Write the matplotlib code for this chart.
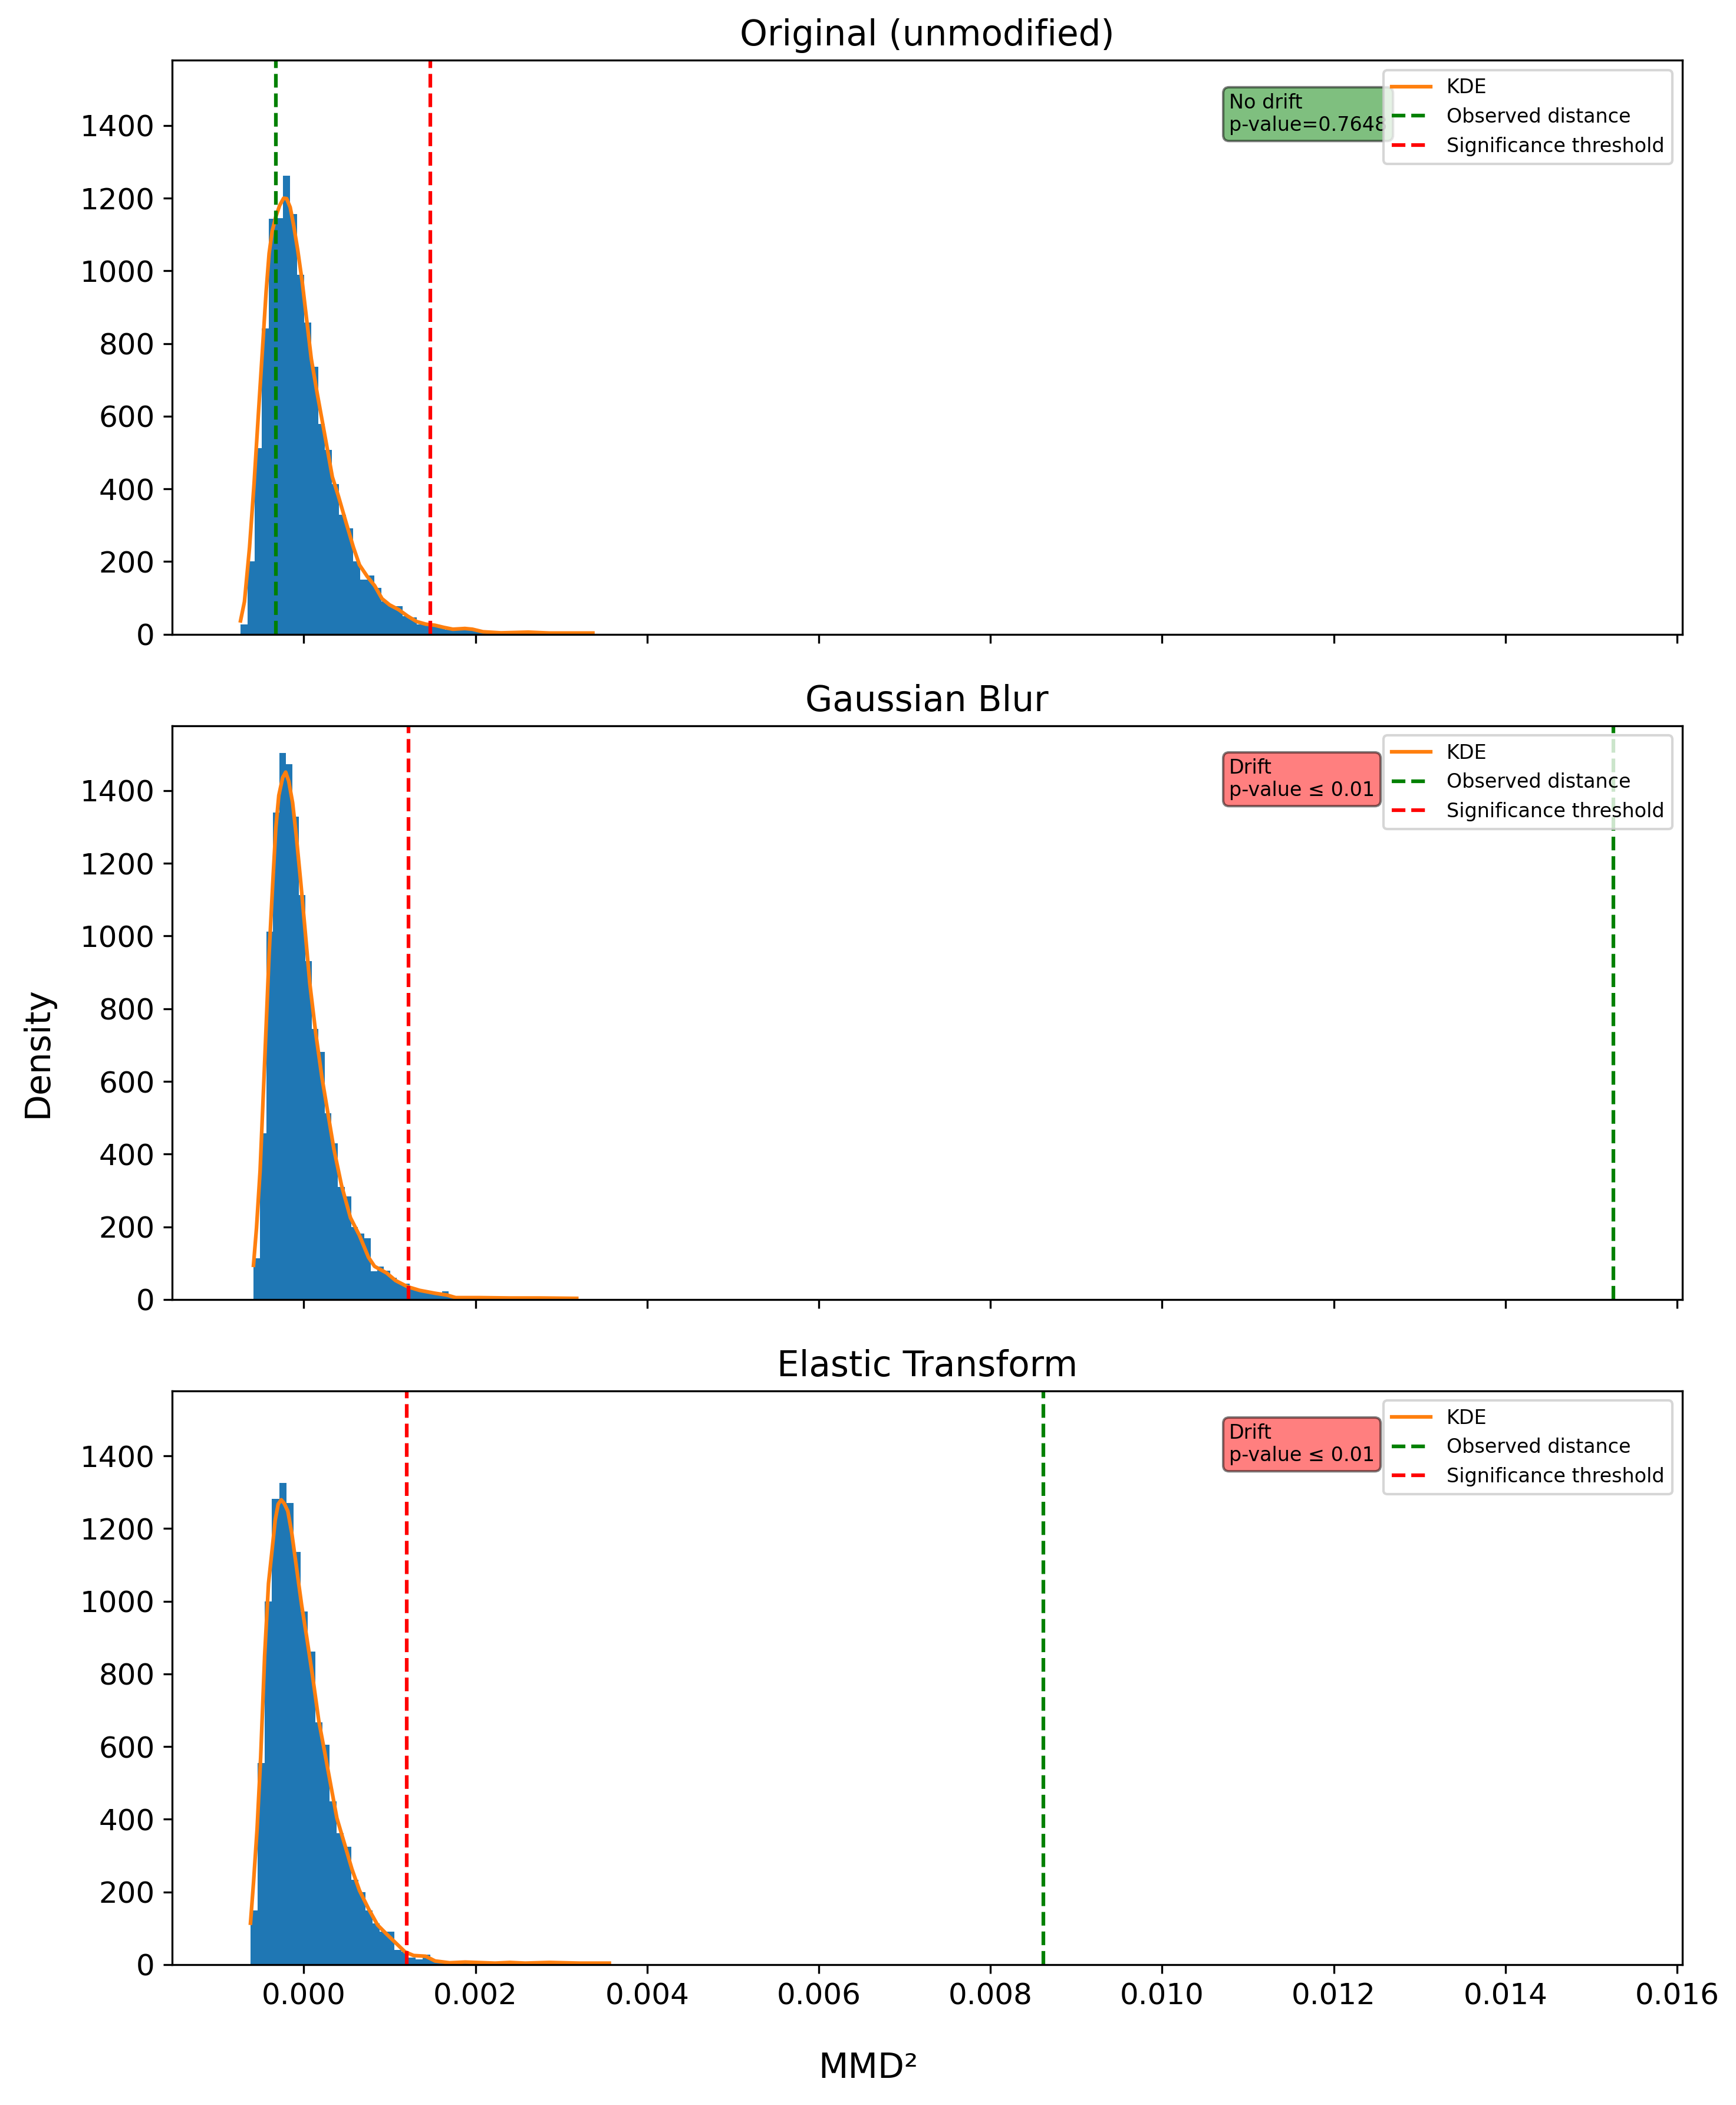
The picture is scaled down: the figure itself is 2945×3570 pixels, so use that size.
import matplotlib.pyplot as plt
import numpy as np

titles = ["Original (unmodified)", "Gaussian Blur", "Elastic Transform"]

# histogram ranges (first / last bin edge) and densities, 50 bins each
hist_lo = [-0.000737, -0.000586, -0.000621]
hist_hi = [0.003368, 0.003204, 0.003564]
hist_orig = [28, 201, 512, 841, 1144, 1145, 1262, 1156, 989, 858,
             737, 579, 507, 414, 329, 292, 201, 151, 162, 127,
             90, 78, 78, 50, 46, 28, 26, 20, 18, 12,
             15, 16, 16, 9, 4, 3, 3, 3, 2, 2,
             3, 3, 2, 2, 2, 2, 1, 1, 1, 1]
hist_blur = [114, 457, 1012, 1340, 1504, 1473, 1329, 1113, 931, 745,
             681, 513, 430, 309, 283, 199, 181, 168, 78, 91,
             79, 59, 47, 44, 30, 22, 20, 16, 12, 22,
             9, 5, 4, 3, 3, 3, 2, 2, 2, 2,
             2, 1, 1, 1, 1, 1, 1, 1, 1, 1]
hist_elastic = [149, 554, 1000, 1282, 1325, 1271, 1136, 971, 861, 666,
                605, 450, 361, 325, 234, 199, 149, 114, 91, 91,
                40, 35, 20, 15, 28, 15, 7, 7, 6, 10,
                4, 3, 3, 3, 3, 2, 3, 2, 2, 2,
                2, 2, 2, 1, 1, 1, 1, 1, 1, 1]

# KDE curves
kde_x_orig = [-0.000737, -0.000691, -0.000632, -0.000579, -0.000526, -0.000474, -0.000439,
              -0.000404, -0.000368, -0.000326, -0.000281, -0.000235, -0.000200, -0.000158,
              -0.000116, -0.0000702, -0.0000175, 0.0000351, 0.0000877, 0.000158, 0.000246,
              0.000333, 0.000404, 0.000491, 0.000579, 0.000649, 0.000737, 0.000825, 0.000912,
              0.001, 0.001105, 0.001211, 0.001316, 0.001421, 0.001526, 0.001632, 0.001737,
              0.001877, 0.001965, 0.002088, 0.002298, 0.002614, 0.00286, 0.003105, 0.003368]
kde_y_orig = [37, 90, 239, 415, 617, 811, 942, 1048, 1109, 1149, 1180, 1200, 1199, 1175, 1123,
              1057, 969, 863, 758, 661, 547, 433, 380, 309, 239, 191, 160, 134, 98, 81,
              68, 50, 35, 28, 25, 19, 14, 16, 14, 7, 4, 6, 3.5, 3.5, 3.5]
kde_x_blur = [-0.000586, -0.000551, -0.000509, -0.000456, -0.000404, -0.000361, -0.000326,
              -0.000291, -0.000246, -0.000211, -0.000175, -0.00013, -0.0000877, -0.0000351,
              0.0000105, 0.0000702, 0.00014, 0.000211, 0.000281, 0.000351, 0.000439, 0.000544,
              0.000649, 0.000754, 0.000825, 0.000965, 0.00107, 0.00121, 0.00135, 0.00153,
              0.00167, 0.00177, 0.00205, 0.0024, 0.00275, 0.00318]
kde_y_blur = [94, 196, 354, 652, 950, 1148, 1297, 1387, 1436, 1451, 1426, 1367, 1277, 1148,
              1029, 870, 732, 612, 513, 414, 315, 225, 176, 116, 91, 73, 52, 35, 25, 17,
              12, 5, 5, 4, 4, 3]
kde_x_elastic = [-0.000621, -0.000586, -0.000544, -0.000502, -0.000456, -0.000411, -0.000375,
                 -0.000333, -0.000298, -0.000263, -0.000228, -0.000186, -0.00014, -0.0000877,
                 -0.0000246, 0.0000351, 0.000105, 0.000175, 0.000246, 0.000316, 0.000386,
                 0.000474, 0.000561, 0.000649, 0.000754, 0.00086, 0.000965, 0.00107, 0.00118,
                 0.00128, 0.00142, 0.00153, 0.0017, 0.00188, 0.00223, 0.0024, 0.00258, 0.00286,
                 0.00321, 0.00356]
kde_y_elastic = [114, 224, 373, 572, 850, 1049, 1128, 1223, 1267, 1279, 1269, 1248, 1188, 1098,
                 989, 900, 790, 671, 582, 492, 403, 333, 263, 204, 154, 109, 84, 60, 35, 25,
                 23, 10, 5, 7, 4, 6, 4, 6, 4, 4]

observed = [-0.000323, 0.01526, 0.00862]
threshold = [0.001477, 0.00122, 0.0012]
verdicts = ["No drift\np-value=0.7648", "Drift\np-value ≤ 0.01", "Drift\np-value ≤ 0.01"]
box_colors = ["green", "red", "red"]

hists = [hist_orig, hist_blur, hist_elastic]
kdes = [(kde_x_orig, kde_y_orig), (kde_x_blur, kde_y_blur), (kde_x_elastic, kde_y_elastic)]

fig, axes = plt.subplots(3, 1, figsize=(2945 / 300, 3570 / 300), sharex=True, sharey=True)
fig.subplots_adjust(left=0.099, right=0.969, top=0.9713, bottom=0.0667, hspace=0.159)

for i, ax in enumerate(axes):
    edges = np.linspace(hist_lo[i], hist_hi[i], len(hists[i]) + 1)
    ax.hist(edges[:-1], bins=edges, weights=hists[i], color="C0")
    ax.plot(kdes[i][0], kdes[i][1], color="C1", label="KDE")
    ax.axvline(observed[i], color="green", linestyle="--", label="Observed distance")
    ax.axvline(threshold[i], color="red", linestyle="--", label="Significance threshold")
    ax.set_title(titles[i], fontsize=14.3)
    ax.tick_params(labelsize=12)
    ax.text(0.7, 0.943, verdicts[i], transform=ax.transAxes, fontsize=8, va="top",
            bbox=dict(boxstyle="round", facecolor=box_colors[i], alpha=0.5))
    ax.legend(loc="upper right", fontsize=8)

fig.supxlabel("MMD²", fontsize=14, y=0.0174, va="center")
fig.supylabel("Density", fontsize=14, x=0.0217, ha="center")
plt.savefig("out.png", dpi=300)
